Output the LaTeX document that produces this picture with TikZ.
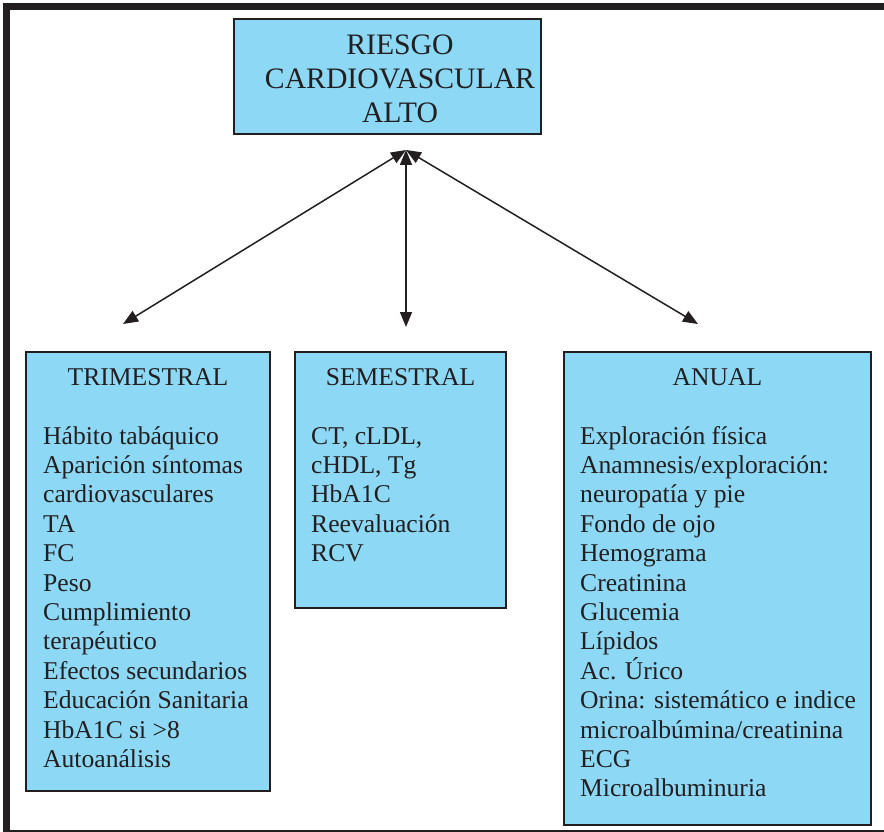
\documentclass[tikz,border=0pt]{standalone}
\usepackage{fontspec}
\setmainfont{Liberation Serif}
\usetikzlibrary{arrows.meta}
\definecolor{boxblue}{RGB}{140,216,245}
\definecolor{ink}{RGB}{35,31,32}
\tikzset{
  box/.style={draw=ink, fill=boxblue, line width=1.5pt, rectangle, inner sep=0pt},
  txt/.style={anchor=base west, inner sep=0pt, text=ink, font=\fontsize{25.6}{29.4}\selectfont},
  head/.style={anchor=base, inner sep=0pt, text=ink, font=\fontsize{25.6}{29.4}\selectfont},
  ttl/.style={anchor=base, inner sep=0pt, text=ink, font=\fontsize{29.7}{34}\selectfont},
  conn/.style={draw=ink, line width=1.5pt, {Triangle[length=15pt,width=12pt]}-{Triangle[length=15pt,width=12pt]}}
}
\begin{document}
\begin{tikzpicture}[x=1pt,y=-1pt]
\useasboundingbox (0,0) rectangle (884,832);
% outer frame
\draw[ink, line width=7pt] (890,6.5) -- (6.5,6.5) -- (6.5,833) -- (890,833);
% boxes
\node[box, minimum width=307pt, minimum height=115pt] (top) at (387.5,76.5) {};
\node[box, minimum width=244pt, minimum height=439pt] (tri) at (148,571.5) {};
\node[box, minimum width=211pt, minimum height=256pt] (sem) at (400.5,480) {};
\node[box, minimum width=307pt, minimum height=473pt] (anu) at (717.5,588.5) {};
% title
\node[ttl] (t1) at (400,55) {RIESGO};
\node[ttl] (t2) at (400,89) {CARDIOVASCULAR};
\node[ttl] (t3) at (400,123) {ALTO};
% headers
\node[head] (htri) at (148,385) {TRIMESTRAL};
\node[head] (hsem) at (400.5,385) {SEMESTRAL};
\node[head] (hanu) at (717.5,385) {ANUAL};
% body texts
\foreach \t [count=\i from 0] in {Hábito tabáquico, Aparición síntomas, cardiovasculares, TA, FC, Peso, Cumplimiento, terapéutico, Efectos secundarios, Educación Sanitaria, HbA1C si >8, Autoanálisis}
  \node[txt] (tl\i) at (43,444+\i*29.4) {\t};
\foreach \t [count=\i from 0] in {{CT, cLDL,}, {cHDL, Tg}, HbA1C, Reevaluación, RCV}
  \node[txt] (sl\i) at (311,444+\i*29.4) {\t};
\foreach \t [count=\i from 0] in {Exploración física, Anamnesis/exploración:, neuropatía y pie, Fondo de ojo, Hemograma, Creatinina, Glucemia, Lípidos, Ac. Úrico, Orina: sistemático e indice, microalbúmina/creatinina, ECG, Microalbuminuria}
  \node[txt] (al\i) at (580,444+\i*29.4) {\t};
% connectors
\coordinate (apex) at (406,150);
\coordinate (ltip) at (123,324);
\coordinate (mtip) at (406,327);
\coordinate (rtip) at (698,324);
\draw[conn] (apex) -- (ltip);
\draw[conn] (apex) -- (mtip);
\draw[conn] (apex) -- (rtip);
\end{tikzpicture}
\end{document}
